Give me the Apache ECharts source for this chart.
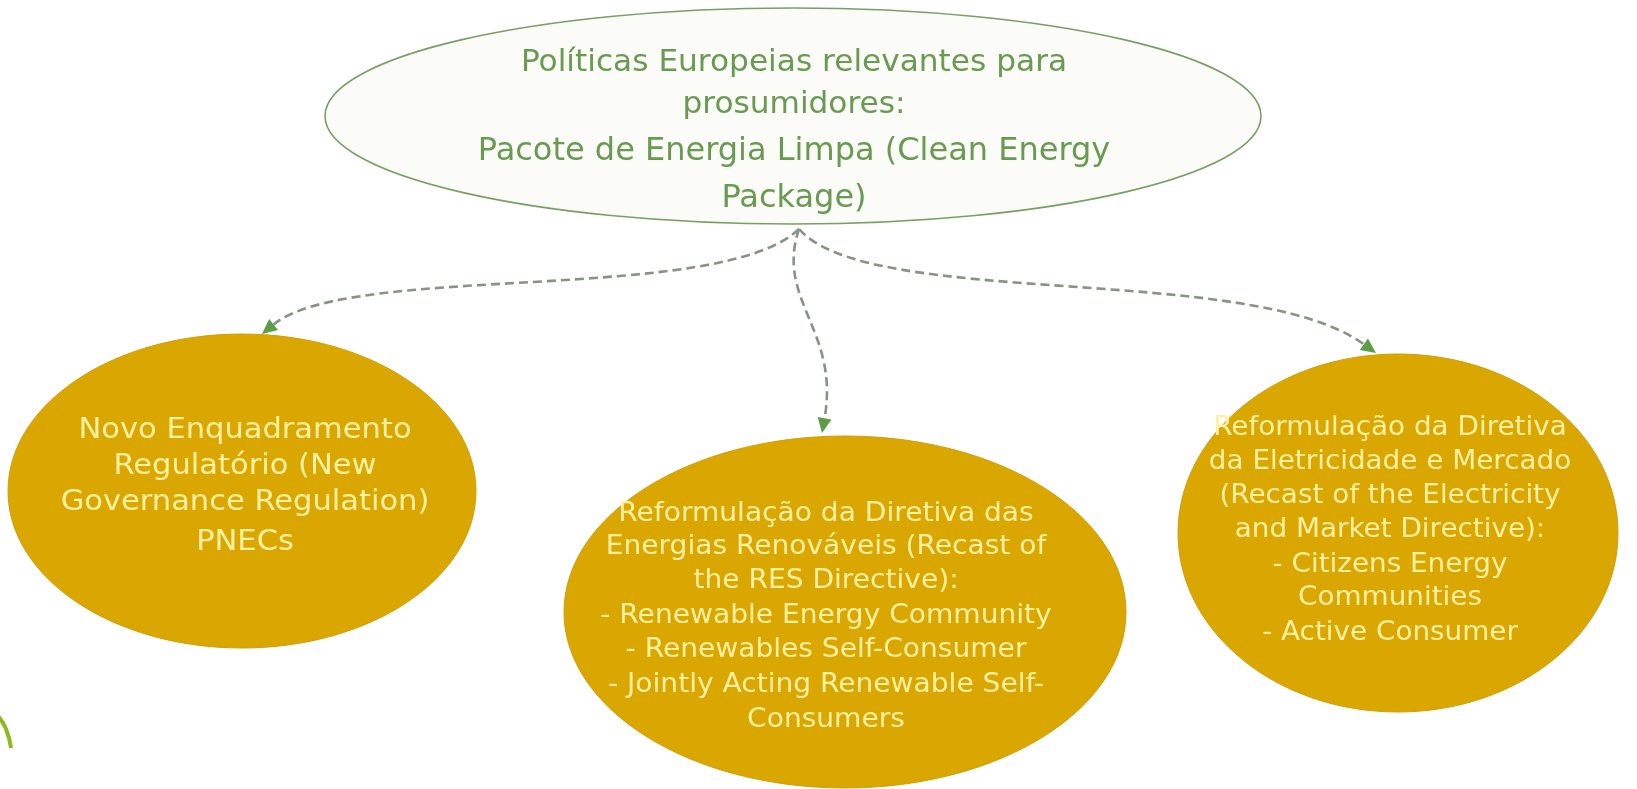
<!DOCTYPE html>
<html>
<head>
<meta charset="utf-8">
<script src="https://cdn.jsdelivr.net/npm/echarts@6/dist/echarts.min.js"></script>
<style>
  html, body { margin: 0; padding: 0; background: #ffffff; }
  #chart { width: 1637px; height: 789px; }
</style>
</head>
<body>
<div id="chart"></div>
<script>
// ---------- data ----------
const nodeIds = ['top', 'left', 'middle', 'right'];
const nodeTexts = [
  ['Políticas Europeias relevantes para', 'prosumidores:', 'Pacote de Energia Limpa (Clean Energy', 'Package)'],
  ['Novo Enquadramento', 'Regulatório (New', 'Governance Regulation)', 'PNECs'],
  ['Reformulação da Diretiva das', 'Energias Renováveis (Recast of', 'the RES Directive):',
   '- Renewable Energy Community', '- Renewables Self-Consumer', '- Jointly Acting Renewable Self-', 'Consumers'],
  ['Reformulação da Diretiva', 'da Eletricidade e Mercado', '(Recast of the Electricity',
   'and Market Directive):', '- Citizens Energy', 'Communities', '- Active Consumer']
];
const links = [['top', 'left'], ['top', 'middle'], ['top', 'right']];

// ---------- layout (positions / sizes, kept apart from data) ----------
const nodeLayout = {
  top:    { cx: 793,  cy: 116, rx: 468, ry: 108, textCx: 794,  lineY: [63, 105, 152, 199] },
  left:   { cx: 242,  cy: 491, rx: 234, ry: 157, textCx: 245,  lineY: [431, 467, 503, 543] },
  middle: { cx: 845,  cy: 612, rx: 281, ry: 176, textCx: 826,  lineY: [514, 547, 581, 616, 650, 685, 720] },
  right:  { cx: 1398, cy: 533, rx: 220, ry: 179, textCx: 1390, lineY: [428, 462, 496, 530, 565, 598, 633] }
};
const edgeLayout = [
  [[799, 229], [720, 305], [350, 262], [262, 334]],
  [[799, 229], [775, 300], [840, 330], [822, 433]],
  [[799, 229], [870, 310], [1250, 262], [1376, 353]]
];

// ---------- styles ----------
const nodeStyle = {
  top:    { fill: '#fbfcf8', stroke: '#7a9e66', lineWidth: 1.6, textColor: '#6a9a52',
            fontSize: [30, 30, 32, 32], scaleX: [1.04, 1.04, 1.0, 1.0] },
  left:   { fill: '#daa600', stroke: '#cf9f08', lineWidth: 1, textColor: '#fff0a2',
            fontSize: [28, 28, 28, 28], scaleX: [1.09, 1.09, 1.09, 1.09] },
  middle: { fill: '#daa600', stroke: '#cf9f08', lineWidth: 1, textColor: '#fff0a2',
            fontSize: [26, 26, 26, 26, 26, 26, 26], scaleX: [1.08, 1.08, 1.08, 1.08, 1.08, 1.08, 1.08] },
  right:  { fill: '#daa600', stroke: '#cf9f08', lineWidth: 1, textColor: '#fff0a2',
            fontSize: [26, 26, 26, 26, 26, 26, 26], scaleX: [1.07, 1.07, 1.07, 1.07, 1.07, 1.07, 1.07] }
};
const FONT = 'DejaVu Sans, Verdana, sans-serif';

const chart = echarts.init(document.getElementById('chart'), null, { renderer: 'canvas' });

function renderNode(params, api) {
  const id = nodeIds[params.dataIndex];
  const L = nodeLayout[id];
  const S = nodeStyle[id];
  const c = api.coord([L.cx, L.cy]);
  const sz = api.size([L.rx, L.ry]);
  const children = [{
    type: 'ellipse',
    shape: { cx: c[0], cy: c[1], rx: sz[0], ry: sz[1] },
    style: { fill: S.fill, stroke: S.stroke, lineWidth: S.lineWidth }
  }];
  nodeTexts[params.dataIndex].forEach(function (line, i) {
    const p = api.coord([L.textCx, L.lineY[i]]);
    children.push({
      type: 'text',
      x: p[0], y: p[1],
      scaleX: S.scaleX[i],
      style: {
        text: line, fill: S.textColor,
        fontSize: S.fontSize[i], fontFamily: FONT,
        align: 'center', verticalAlign: 'middle',
        textAlign: 'center', textVerticalAlign: 'middle'
      }
    });
  });
  return { type: 'group', children: children };
}

function renderEdge(params, api) {
  const pts = edgeLayout[params.dataIndex].map(function (p) { return api.coord(p); });
  const p2 = pts[2], p3 = pts[3];
  let dx = p3[0] - p2[0], dy = p3[1] - p2[1];
  const len = Math.sqrt(dx * dx + dy * dy);
  dx /= len; dy /= len;
  const al = 15, aw = 7;
  const bx = p3[0] - dx * al, by = p3[1] - dy * al;
  return {
    type: 'group',
    children: [{
      type: 'bezierCurve',
      shape: { x1: pts[0][0], y1: pts[0][1], cpx1: pts[1][0], cpy1: pts[1][1],
               cpx2: pts[2][0], cpy2: pts[2][1], x2: bx, y2: by },
      style: { stroke: '#899385', lineWidth: 2.6, lineDash: [9, 5], fill: null }
    }, {
      type: 'polygon',
      shape: { points: [[p3[0], p3[1]], [bx - dy * aw, by + dx * aw], [bx + dy * aw, by - dx * aw]] },
      style: { fill: '#5c9e46' }
    }]
  };
}

chart.setOption({
  animation: false,
  backgroundColor: '#ffffff',
  grid: { left: 0, right: 0, top: 0, bottom: 0 },
  xAxis: { type: 'value', min: 0, max: 1637, show: false },
  yAxis: { type: 'value', min: 0, max: 789, inverse: true, show: false },
  graphic: [{
    type: 'polyline',
    shape: { points: [[-2, 716], [6, 729], [11, 748]], smooth: 0.5 },
    style: { stroke: '#8cb91c', lineWidth: 4, fill: null }
  }],
  series: [{
    type: 'custom',
    name: 'nodes',
    coordinateSystem: 'cartesian2d',
    clip: false,
    z: 2,
    renderItem: renderNode,
    data: nodeIds.map(function (id, i) { return [i, 0]; })
  }, {
    type: 'custom',
    name: 'links',
    coordinateSystem: 'cartesian2d',
    clip: false,
    z: 3,
    renderItem: renderEdge,
    data: links.map(function (l, i) { return [i, 0]; })
  }]
});
</script>
</body>
</html>
